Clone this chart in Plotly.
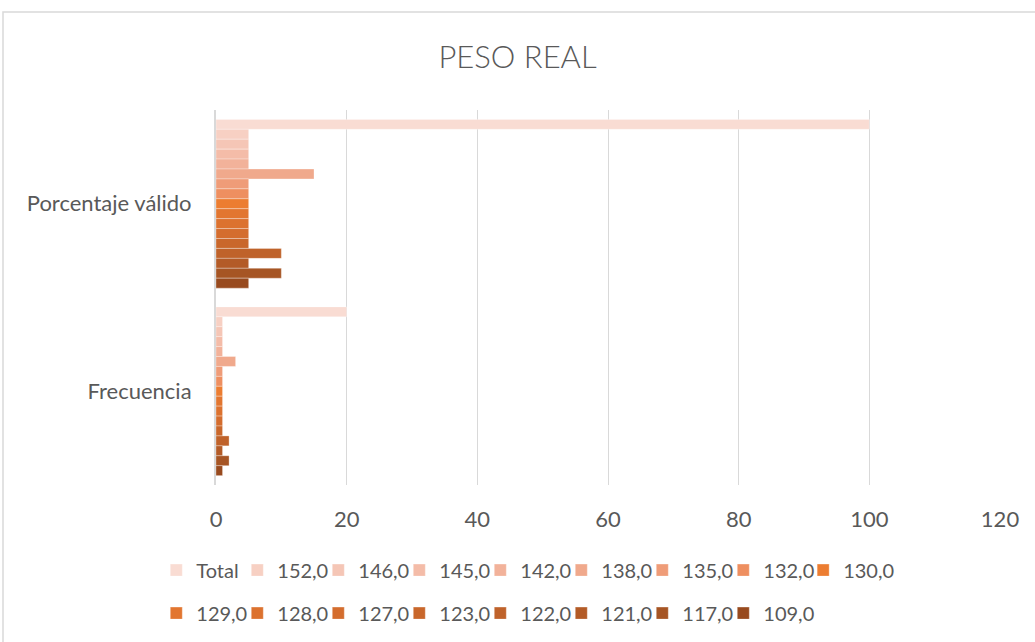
import plotly.graph_objects as go

# Data
categories = ['Porcentaje válido', 'Frecuencia']
series = ['Total', '152,0', '146,0', '145,0', '142,0', '138,0', '135,0', '132,0', '130,0',
          '129,0', '128,0', '127,0', '123,0', '122,0', '121,0', '117,0', '109,0']
porcentaje = [100, 5, 5, 5, 5, 15, 5, 5, 5, 5, 5, 5, 5, 10, 5, 10, 5]
frecuencia = [20, 1, 1, 1, 1, 3, 1, 1, 1, 1, 1, 1, 1, 2, 1, 2, 1]
colors = ['#F9DCD3', '#F7D0C3', '#F5C6B6', '#F4BCA8', '#F2B29A', '#F0A98C', '#EF9C78', '#EE8F60',
          '#EC7D31', '#E27630', '#DC722F', '#D46D2E', '#C9672B', '#BF622A', '#B35B27', '#A65524', '#984A1E']

# which legend box each entry goes to (two rows, as in the original)
legend_of = ['legend'] * 8 + ['legend3'] + ['legend2'] * 8

fig = go.Figure()
for i, name in enumerate(series):
    fig.add_trace(go.Bar(
        y=categories,
        x=[porcentaje[i], frecuencia[i]],
        name=name,
        orientation='h',
        legend=legend_of[i],
        marker=dict(color=colors[i], line=dict(color='rgba(255,255,255,0.6)', width=0.5)),
    ))

# invisible spacer entries so the last legend label in each row is not clipped
for lg in ['legend', 'legend2']:
    fig.add_trace(go.Scatter(x=[None], y=[None], mode='markers', name=' ', legend=lg,
                             marker=dict(color='rgba(0,0,0,0)'), hoverinfo='skip'))

legend_style = dict(orientation='h', xref='container', yref='container', x=0.151, xanchor='left',
                    yanchor='middle', entrywidth=36, font=dict(size=20, color='#595959'),
                    bgcolor='rgba(0,0,0,0)')

fig.update_layout(
    width=1035, height=642,
    barmode='group', bargap=0.1, bargroupgap=0,
    plot_bgcolor='white', paper_bgcolor='white',
    font=dict(family='Lato, Open Sans, sans-serif', size=22, color='#595959'),
    title=dict(text='PESO REAL', x=0.5, xref='container', xanchor='center', y=0.911, yanchor='middle',
               font=dict(size=31, color='#595959', weight=300)),
    margin=dict(l=216, r=35, t=110, b=157),
    legend=dict(legend_style, y=0.112),
    legend2=dict(legend_style, y=0.045),
    legend3=dict(orientation='h', xref='container', yref='container', x=0.776, xanchor='left',
                 y=0.112, yanchor='middle', font=dict(size=20, color='#595959'),
                 bgcolor='rgba(0,0,0,0)'),
    shapes=[dict(type='rect', xref='paper', yref='paper',
                 x0=(3 - 216) / 784, x1=(1045 - 216) / 784,
                 y0=-0.5, y1=(642 - 12 - 157) / 375,
                 line=dict(color='#D9D9D9', width=1.5), layer='below')],
)
fig.update_xaxes(range=[0, 120], dtick=20, showgrid=True, gridcolor='#D9D9D9', gridwidth=1,
                 zeroline=False, showline=False, ticks='', ticklabelstandoff=19,
                 tickfont=dict(size=22))
fig.update_yaxes(autorange='reversed', showline=True, linecolor='#D9D9D9', linewidth=2,
                 ticks='', ticklabelstandoff=18, tickfont=dict(size=22))

fig.write_html('out.html', config={'displayModeBar': False},
               post_script="document.body.style.margin='0';")
